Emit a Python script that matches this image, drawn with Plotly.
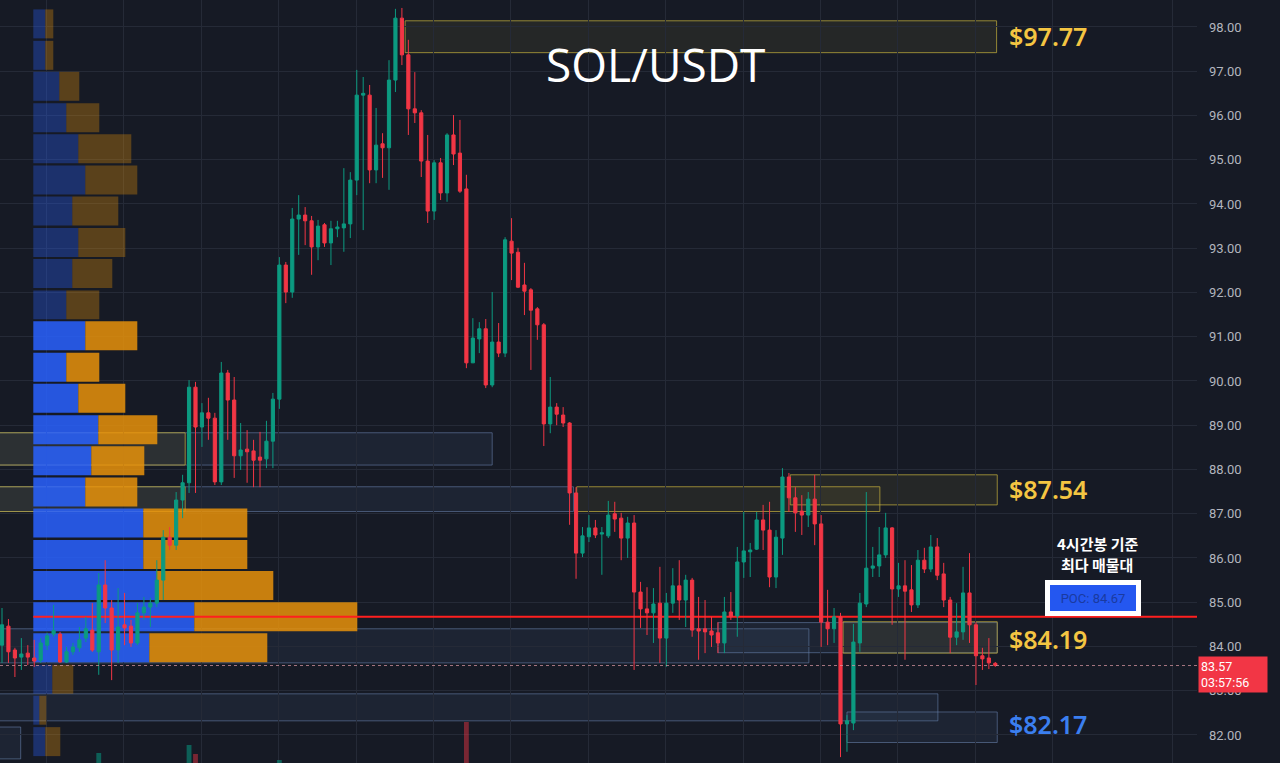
import plotly.graph_objects as go

# ---------------- data ----------------
opens = [84.03, 84.46, 83.92, 83.76, 83.85, 83.74, 83.69, 84.03, 84.28, 84.28,
         83.65, 83.88, 83.97, 84.19, 84.37, 83.88, 85.39, 84.87, 83.92, 84.49,
         84.46, 84.08, 84.76, 84.89, 84.98, 85.50, 86.47, 86.29, 87.31, 87.70,
         89.86, 88.96, 89.28, 89.16, 87.72, 90.18, 89.57, 88.31, 88.46, 88.42,
         88.28, 88.24, 88.64, 89.59, 92.62, 92.01, 93.66, 93.75, 93.62, 93.03,
         93.53, 93.12, 93.44, 93.46, 93.55, 94.54, 96.46, 96.46, 94.77, 95.36,
         95.27, 96.80, 98.20, 97.37, 96.15, 96.06, 94.97, 93.84, 94.93, 94.25,
         95.56, 95.15, 94.34, 90.41, 90.95, 91.18, 89.91, 90.88, 90.63, 93.16,
         92.91, 92.17, 92.06, 91.63, 91.27, 89.03, 89.41, 89.23, 89.05, 87.47,
         86.11, 86.48, 86.68, 86.54, 86.50, 87.00, 86.90, 86.45, 86.79, 85.23,
         84.85, 84.76, 84.98, 84.19, 84.98, 85.37, 85.05, 85.50, 84.40, 84.40,
         84.35, 84.31, 84.08, 84.78, 84.69, 85.91, 86.14, 86.20, 86.86, 86.63,
         85.57, 86.45, 87.83, 87.36, 87.06, 86.97, 87.33, 86.77, 84.55, 84.40,
         84.67, 82.25, 82.27, 84.08, 84.96, 85.77, 85.82, 86.07, 86.68, 85.30,
         85.37, 85.28, 84.94, 85.95, 85.75, 86.25, 85.64, 85.05, 84.21, 84.33,
         85.21, 84.49, 83.79, 83.74, 83.62]
highs = [84.87, 84.62, 83.97, 84.19, 84.03, 84.15, 84.19, 84.31, 84.94, 84.33,
         83.99, 84.08, 84.44, 84.67, 84.98, 85.66, 85.95, 85.05, 85.32, 85.21,
         84.60, 84.98, 85.12, 85.10, 85.95, 86.63, 86.70, 87.49, 87.88, 90.02,
         89.98, 89.50, 89.62, 89.28, 90.43, 90.25, 90.09, 89.05, 88.89, 88.67,
         88.85, 89.10, 89.73, 92.80, 92.69, 93.91, 94.20, 93.93, 93.73, 93.64,
         93.57, 93.62, 93.62, 94.81, 94.72, 97.03, 96.87, 96.69, 96.17, 95.60,
         97.25, 98.41, 98.43, 97.71, 96.98, 96.12, 95.56, 94.99, 95.04, 95.60,
         96.01, 95.90, 94.66, 91.42, 91.33, 91.40, 92.01, 91.31, 93.25, 93.68,
         93.01, 92.67, 92.10, 91.67, 91.31, 90.09, 89.50, 89.41, 89.07, 87.60,
         86.70, 86.97, 86.86, 86.70, 87.29, 87.27, 87.02, 86.93, 86.97, 85.46,
         85.34, 85.32, 85.80, 85.21, 85.77, 85.95, 85.62, 85.55, 85.12, 85.05,
         84.67, 84.55, 85.12, 85.23, 86.25, 87.04, 86.34, 87.04, 87.20, 87.27,
         86.63, 88.03, 87.92, 87.60, 87.42, 87.49, 87.88, 86.97, 85.28, 84.87,
         84.76, 82.45, 84.51, 85.21, 87.49, 86.25, 86.70, 87.02, 86.70, 85.89,
         85.95, 85.84, 86.18, 86.23, 86.52, 86.45, 85.89, 85.12, 84.98, 85.80,
         86.11, 84.55, 83.97, 84.19, 83.65]
lows = [83.63, 83.63, 83.31, 83.47, 83.58, 83.54, 83.63, 83.92, 84.22, 83.63,
        83.63, 83.81, 83.88, 84.10, 83.88, 83.36, 84.53, 83.24, 83.63, 84.03,
        83.99, 84.03, 84.60, 84.44, 84.89, 85.05, 86.18, 86.18, 86.90, 87.47,
        87.47, 88.51, 88.67, 87.65, 87.65, 88.67, 87.81, 87.99, 87.70, 87.60,
        87.60, 88.03, 88.03, 89.37, 91.76, 91.88, 92.85, 93.07, 92.40, 92.73,
        93.03, 92.62, 93.25, 92.92, 93.23, 94.20, 93.41, 94.47, 94.47, 94.59,
        94.32, 96.53, 97.14, 95.56, 95.83, 94.61, 93.57, 93.64, 94.09, 94.05,
        94.88, 94.25, 90.29, 90.41, 90.63, 89.84, 89.86, 90.54, 90.54, 92.28,
        92.10, 91.49, 90.25, 90.93, 88.53, 88.82, 89.00, 88.96, 86.75, 85.53,
        86.02, 86.36, 86.45, 85.62, 86.45, 86.59, 85.95, 86.00, 83.47, 84.42,
        84.26, 84.08, 83.63, 83.54, 84.76, 84.60, 84.44, 84.22, 83.70, 83.85,
        83.99, 83.85, 83.85, 84.60, 84.22, 85.55, 85.57, 86.18, 86.18, 85.34,
        85.32, 86.07, 87.04, 86.59, 86.52, 86.70, 86.29, 83.99, 84.03, 84.08,
        81.50, 81.62, 82.11, 83.88, 84.89, 85.57, 85.57, 86.00, 84.49, 85.12,
        83.70, 84.78, 84.87, 85.66, 85.68, 85.50, 84.89, 83.85, 84.03, 84.15,
        84.08, 83.13, 83.47, 83.49, 83.54]
closes = [84.49, 83.88, 83.74, 83.83, 83.76, 83.67, 84.08, 84.24, 84.36, 83.65,
          83.88, 83.99, 84.15, 84.40, 83.92, 85.39, 84.87, 83.92, 84.44, 84.42,
          84.08, 84.76, 84.89, 84.98, 85.50, 86.47, 86.29, 87.31, 87.70, 89.86,
          88.96, 89.28, 89.16, 87.72, 90.18, 89.57, 88.31, 88.44, 88.40, 88.21,
          88.21, 88.64, 89.59, 92.62, 92.01, 93.66, 93.75, 93.62, 93.03, 93.50,
          93.12, 93.44, 93.48, 93.55, 94.54, 96.46, 96.50, 94.77, 95.33, 95.27,
          96.80, 98.20, 97.37, 96.15, 96.06, 94.97, 93.84, 94.93, 94.25, 95.56,
          95.13, 94.29, 90.41, 90.97, 91.18, 89.91, 90.88, 90.63, 93.19, 92.89,
          92.12, 92.03, 91.60, 91.27, 89.03, 89.41, 89.25, 89.05, 87.47, 86.11,
          86.50, 86.68, 86.52, 86.57, 86.97, 86.88, 86.45, 86.79, 85.23, 84.85,
          84.76, 84.96, 84.19, 84.98, 85.37, 85.05, 85.50, 84.37, 84.35, 84.33,
          84.26, 84.08, 84.78, 84.67, 85.91, 86.16, 86.18, 86.86, 86.63, 85.57,
          86.47, 87.83, 87.36, 87.02, 86.97, 87.33, 86.77, 84.55, 84.40, 84.67,
          82.25, 82.32, 84.10, 84.98, 85.77, 85.82, 86.07, 86.68, 85.30, 85.37,
          85.25, 84.94, 85.95, 85.75, 86.25, 85.61, 85.05, 84.21, 84.33, 85.21,
          84.49, 83.79, 83.72, 83.63, 83.57]
candle_idx = list(range(len(opens)))

# volume profile (24 price rows, top to bottom)
profile_price = [98.07, 97.36, 96.66, 95.95, 95.25, 94.54, 93.84, 93.13,
                 92.43, 91.72, 91.02, 90.31, 89.61, 88.90, 88.20, 87.49,
                 86.79, 86.08, 85.38, 84.67, 83.97, 83.26, 82.56, 81.85]
profile_buy = [12, 12, 26, 33, 45, 52, 39, 45, 39, 33, 52, 33,
               45, 65, 58, 52, 110, 110, 123, 161, 116, 19, 6, 12]
profile_sell = [8, 8, 20, 33, 53, 52, 46, 47, 40, 33, 52, 33,
                47, 59, 53, 52, 104, 104, 117, 163, 118, 21, 7, 15]
value_area = [False] * 10 + [True] * 11 + [False] * 3

# visible volume histogram bars at the bottom
vol_idx = [15, 29, 30, 43, 72]
vol_val = [10, 18, 9, 3, 41]
vol_up = [True, True, False, True, False]

poc_price = 84.67
last_price = 83.57
countdown = "03:57:56"

# zones: x in candle index, y in price
zone_x0 = [62.5, -1, -1, -1, -1, 89.1, 122.2, -1, 111.0, 130.4, -1, 131.0, -1]
zone_x1 = [154.2, 76.0, 28.4, 88.6, 28.4, 136.1, 154.3, 125.1, 154.3, 154.3, 145.1, 154.3, 2.9]
zone_y0 = [97.42, 88.10, 88.10, 87.05, 87.05, 87.05, 87.20, 83.63, 83.86, 83.85, 82.32, 81.83, 81.46]
zone_y1 = [98.14, 88.83, 88.83, 87.61, 87.61, 87.61, 87.88, 84.40, 84.54, 84.56, 82.93, 82.52, 82.18]
zone_kind = ["y", "b", "y", "b", "y", "y", "y", "b", "b", "y", "b", "b", "b"]

level_labels = ["$97.77", "$87.54", "$84.19", "$82.17"]
level_y = [97.80, 87.56, 84.17, 82.25]
level_colors = ["#f4c542", "#f4c542", "#f4c542", "#3b7ff0"]

note_lines = ["4시간봉 기준", "최다 매물대"]
note_y = [86.32, 85.86]

grid_x = [6.9 + 12 * k for k in range(14)] + [181.4]
price_ticks = list(range(82, 99))

# ---------------- figure ----------------
BG = "#161a25"
GRID = "#252a37"
UP = "#0c9a80"
DOWN = "#f23645"

fig = go.Figure()

# POC line (under the profile bars)
fig.add_trace(go.Scatter(x=[0, 1170], y=[poc_price, poc_price], mode="lines",
                         line=dict(color="#ff1f1f", width=2), hoverinfo="skip",
                         xaxis="x", yaxis="y", showlegend=False))

buy_colors = ["rgba(41,98,255,0.85)" if v else "rgba(41,98,255,0.33)" for v in value_area]
sell_colors = ["rgba(232,146,10,0.85)" if v else "rgba(232,146,10,0.33)" for v in value_area]

fig.add_trace(go.Bar(orientation="h", y=profile_price, x=profile_buy,
                     base=[0] * len(profile_buy), width=0.655,
                     marker=dict(color=buy_colors, line=dict(width=0)),
                     xaxis="x", yaxis="y", showlegend=False))
fig.add_trace(go.Bar(orientation="h", y=profile_price, x=profile_sell,
                     base=profile_buy, width=0.655,
                     marker=dict(color=sell_colors, line=dict(width=0)),
                     xaxis="x", yaxis="y", showlegend=False))

# volume bars
fig.add_trace(go.Bar(x=vol_idx, y=vol_val, width=0.75,
                     marker=dict(color=["rgba(8,153,129,0.55)" if u else "rgba(242,54,69,0.45)" for u in vol_up],
                                 line=dict(width=0)),
                     xaxis="x2", yaxis="y2", showlegend=False))

# candles
fig.add_trace(go.Candlestick(x=candle_idx, open=opens, high=highs, low=lows, close=closes,
                             increasing=dict(line=dict(color=UP, width=1), fillcolor=UP),
                             decreasing=dict(line=dict(color=DOWN, width=1), fillcolor=DOWN),
                             whiskerwidth=0, xaxis="x2", yaxis="y", showlegend=False))

# zones
for x0, x1, y0, y1, k in zip(zone_x0, zone_x1, zone_y0, zone_y1, zone_kind):
    if k == "y":
        lc, fc = "rgba(190,170,60,0.75)", "rgba(180,160,60,0.10)"
    else:
        lc, fc = "rgba(110,135,180,0.55)", "rgba(80,105,150,0.13)"
    fig.add_shape(type="rect", xref="x2", yref="y", x0=x0, x1=x1, y0=y0, y1=y1,
                  line=dict(color=lc, width=1), fillcolor=fc, layer="below")

# current price dotted line
fig.add_shape(type="line", xref="paper", yref="y", x0=0, x1=1, y0=last_price, y1=last_price,
              line=dict(color="rgba(215,150,160,0.75)", width=1, dash="dot"), layer="above")

# texts
fig.add_annotation(xref="paper", yref="paper", x=655 / 1197, y=1 - 64 / 763,
                   xanchor="center", yanchor="middle",
                   text="SOL/USDT", showarrow=False,
                   font=dict(family="Open Sans", size=46, color="white"))
for t, yv, c in zip(level_labels, level_y, level_colors):
    fig.add_annotation(xref="x2", yref="y", x=155.8, y=yv, text=t, showarrow=False,
                       xanchor="left", yanchor="middle",
                       font=dict(family="Noto Sans", size=25, color=c, weight=600))
for t, yv in zip(note_lines, note_y):
    fig.add_annotation(xref="paper", yref="y", x=1097 / 1197, y=yv,
                       xanchor="center", yanchor="middle", text=t, showarrow=False,
                       borderpad=0,
                       font=dict(family="Noto Sans CJK KR", size=15, color="white", weight=600))
fig.add_annotation(xref="paper", yref="y", x=1093 / 1197, y=85.10,
                   xanchor="center", yanchor="middle",
                   text="POC: " + f"{poc_price:.2f}", showarrow=False,
                   bgcolor="#2457f0", bordercolor="white", borderwidth=5, borderpad=5,
                   width=76, height=16,
                   font=dict(family="Roboto", size=13, color="#1a3aa0"))
fig.add_annotation(xref="paper", yref="y", x=1 + 1 / 1197, y=83.79,
                   xanchor="left", yanchor="top", align="left",
                   text=f"{last_price:.2f}<br>{countdown}", showarrow=False,
                   bgcolor="#f23645", borderpad=2, width=64,
                   font=dict(family="Roboto", size=12.5, color="white"))

fig.update_layout(
    width=1280, height=763, autosize=False,
    margin=dict(l=0, r=83, t=0, b=0, pad=0),
    paper_bgcolor=BG, plot_bgcolor=BG,
    barmode="overlay", boxgap=0.3,
    showlegend=False,
    xaxis=dict(range=[-33.3, 1163.7], visible=False, fixedrange=True),
    xaxis2=dict(overlaying="x", range=[-0.31, 185.27], tickvals=grid_x,
                showticklabels=False, showgrid=True, gridcolor=GRID, gridwidth=1,
                zeroline=False, showline=False, ticks="",
                rangeslider=dict(visible=False)),
    yaxis=dict(range=[81.367, 98.61], side="right", tickvals=price_ticks,
               tickformat=".2f", showgrid=True, gridcolor=GRID, zeroline=False,
               ticks="", ticklabelstandoff=11,
               tickfont=dict(family="Roboto", size=13, color="#b2b5be")),
    yaxis2=dict(overlaying="y", range=[0, 763], visible=False),
)

fig.write_html("out.html", config={"displayModeBar": False},
               post_script="document.body.style.margin='0';document.body.style.overflow='hidden';document.body.style.background='#161a25';")
